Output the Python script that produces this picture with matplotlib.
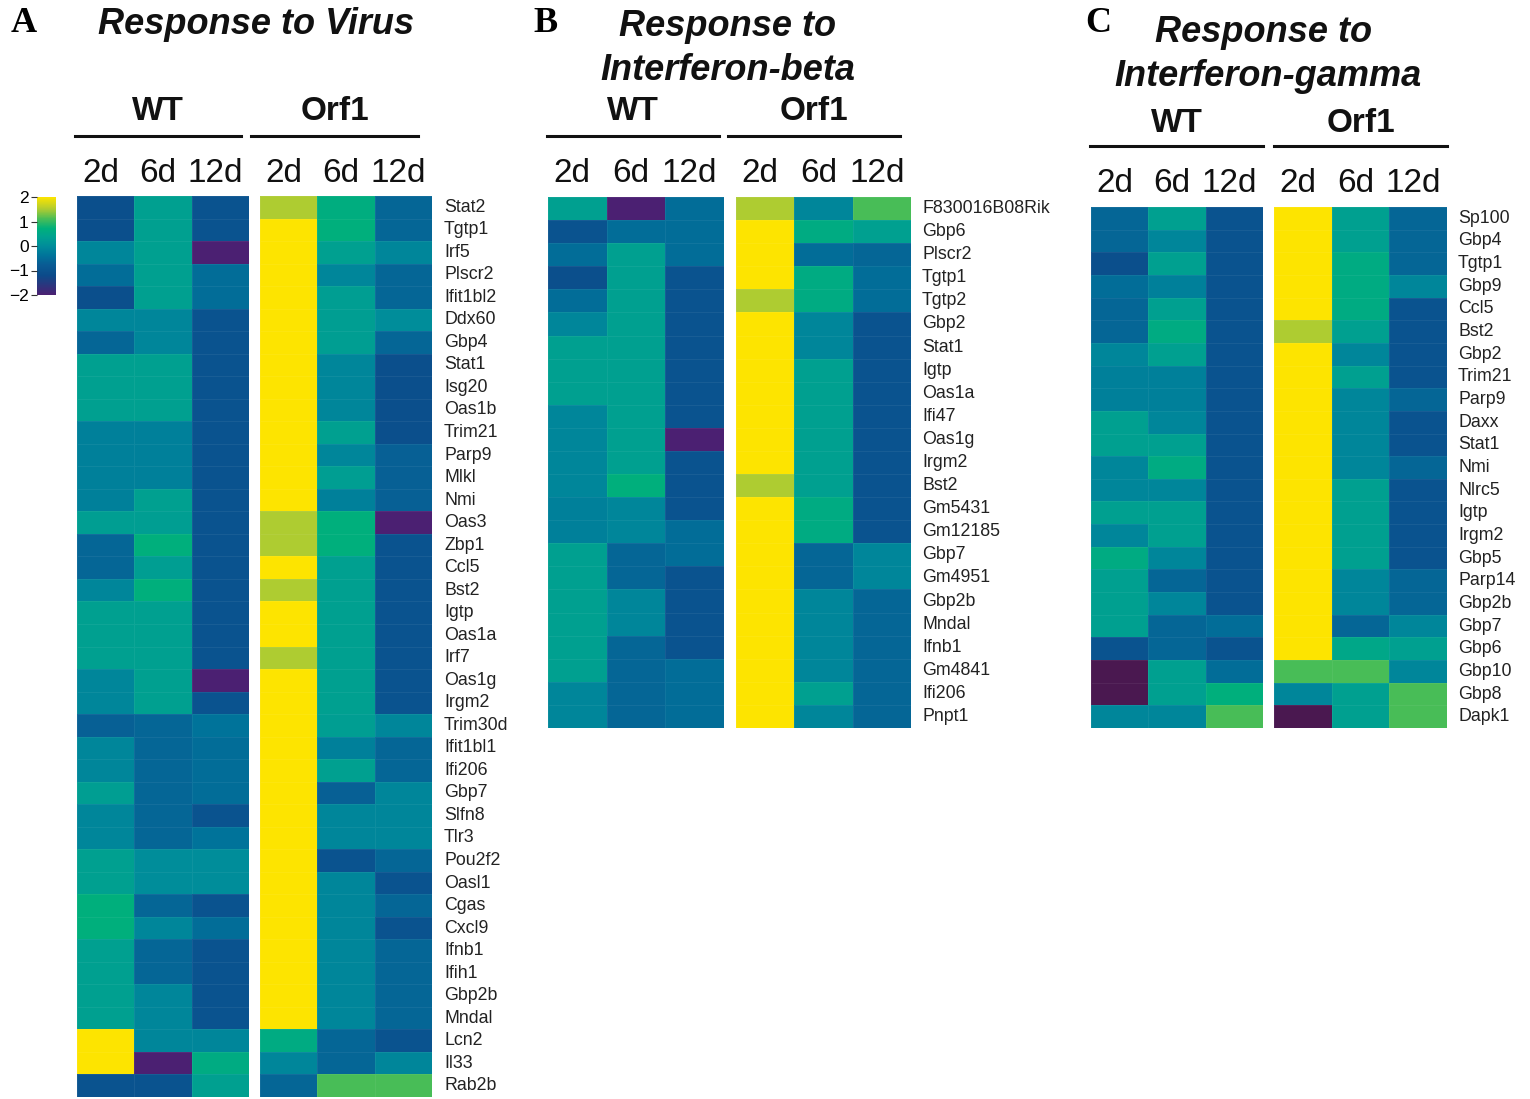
import numpy as np
import matplotlib
matplotlib.use("Agg")
import matplotlib.pyplot as plt
from matplotlib.colors import LinearSegmentedColormap, Normalize
from matplotlib.lines import Line2D

# ---- data (z-scores), columns: WT 2d 6d 12d, Orf1 2d 6d 12d
timepoints = ["2d", "6d", "12d"]
groups = ["WT", "Orf1"]

virus_genes = ["Stat2", "Tgtp1", "Irf5", "Plscr2", "Ifit1bl2", "Ddx60", "Gbp4", "Stat1",
               "Isg20", "Oas1b", "Trim21", "Parp9", "Mlkl", "Nmi", "Oas3", "Zbp1", "Ccl5",
               "Bst2", "Igtp", "Oas1a", "Irf7", "Oas1g", "Irgm2", "Trim30d", "Ifit1bl1",
               "Ifi206", "Gbp7", "Slfn8", "Tlr3", "Pou2f2", "Oasl1", "Cgas", "Cxcl9",
               "Ifnb1", "Ifih1", "Gbp2b", "Mndal", "Lcn2", "Il33", "Rab2b"]
virus_vals = [
    [-1.1, 0.35, -1.0, 1.5, 0.65, -0.6],
    [-1.1, 0.35, -1.0, 2.0, 0.7, -0.6],
    [-0.1, 0.35, -2.0, 2.0, 0.35, -0.1],
    [-0.5, 0.35, -0.5, 2.0, -0.1, -0.6],
    [-1.1, 0.35, -0.5, 2.0, 0.3, -0.6],
    [-0.1, -0.1, -1.0, 2.0, 0.3, 0.0],
    [-0.6, -0.1, -1.0, 2.0, 0.3, -0.6],
    [0.35, 0.35, -1.0, 2.0, -0.1, -1.1],
    [0.35, 0.35, -1.0, 2.0, -0.1, -1.1],
    [0.35, 0.35, -1.0, 2.0, -0.1, -1.1],
    [-0.2, -0.2, -1.0, 2.0, 0.35, -1.1],
    [-0.2, -0.2, -1.0, 2.0, -0.1, -0.7],
    [-0.2, -0.2, -1.0, 2.0, 0.3, -0.7],
    [-0.2, 0.35, -1.0, 2.0, -0.2, -0.7],
    [0.3, 0.3, -1.0, 1.5, 0.7, -2.0],
    [-0.6, 0.7, -1.0, 1.5, 0.7, -1.0],
    [-0.6, 0.3, -1.0, 2.0, 0.35, -1.0],
    [-0.1, 0.7, -1.0, 1.5, 0.35, -1.0],
    [0.35, 0.35, -1.0, 2.0, 0.35, -1.0],
    [0.35, 0.35, -1.0, 2.0, 0.35, -1.0],
    [0.35, 0.35, -1.0, 1.5, 0.35, -1.0],
    [-0.1, 0.35, -2.0, 2.0, 0.35, -1.0],
    [-0.1, 0.35, -1.0, 2.0, 0.35, -1.0],
    [-0.7, -0.6, -0.4, 2.0, 0.3, -0.1],
    [-0.1, -0.6, -0.5, 2.0, -0.2, -0.6],
    [-0.1, -0.6, -0.5, 2.0, 0.35, -0.6],
    [0.3, -0.6, -0.5, 2.0, -0.7, -0.1],
    [-0.1, -0.6, -1.0, 2.0, -0.1, -0.1],
    [-0.1, -0.6, -0.4, 2.0, -0.1, -0.1],
    [0.35, 0.0, 0.0, 2.0, -1.0, -0.6],
    [0.35, 0.0, 0.0, 2.0, -0.1, -1.0],
    [0.7, -0.6, -1.0, 2.0, -0.1, -0.6],
    [0.7, -0.1, -0.5, 2.0, -0.1, -1.0],
    [0.35, -0.6, -1.0, 2.0, -0.1, -0.6],
    [0.35, -0.6, -1.0, 2.0, -0.1, -0.6],
    [0.35, -0.1, -1.0, 2.0, -0.1, -0.6],
    [0.35, -0.1, -1.0, 2.0, -0.1, -0.6],
    [2.0, -0.1, -0.1, 0.6, -0.6, -1.0],
    [2.0, -2.0, 0.6, -0.1, -0.6, -0.1],
    [-1.0, -1.0, 0.35, -0.6, 1.1, 1.1],
]

ifnb_genes = ["F830016B08Rik", "Gbp6", "Plscr2", "Tgtp1", "Tgtp2", "Gbp2", "Stat1", "Igtp",
              "Oas1a", "Ifi47", "Oas1g", "Irgm2", "Bst2", "Gm5431", "Gm12185", "Gbp7",
              "Gm4951", "Gbp2b", "Mndal", "Ifnb1", "Gm4841", "Ifi206", "Pnpt1"]
ifnb_vals = [
    [0.35, -2.0, -0.5, 1.5, -0.1, 1.1],
    [-1.0, -0.5, -0.5, 2.0, 0.6, 0.35],
    [-0.5, 0.35, -0.5, 2.0, -0.5, -0.6],
    [-1.1, 0.35, -1.0, 2.0, 0.6, -0.5],
    [-0.5, 0.35, -1.0, 1.5, 0.6, -0.5],
    [-0.1, 0.35, -1.0, 2.0, -0.1, -1.0],
    [0.35, 0.35, -1.0, 2.0, -0.1, -1.0],
    [0.35, 0.35, -1.0, 2.0, 0.35, -1.0],
    [0.35, 0.35, -1.0, 2.0, 0.35, -1.0],
    [-0.1, 0.35, -1.0, 2.0, 0.35, -1.0],
    [-0.1, 0.35, -2.0, 2.0, 0.35, -1.0],
    [-0.1, 0.35, -1.0, 2.0, 0.35, -1.0],
    [-0.1, 0.7, -1.0, 1.5, 0.35, -1.0],
    [-0.2, -0.1, -1.0, 2.0, 0.6, -1.0],
    [-0.2, -0.1, -0.5, 2.0, 0.6, -1.0],
    [0.35, -0.6, -0.5, 2.0, -0.6, -0.1],
    [0.35, -0.6, -1.0, 2.0, -0.6, -0.1],
    [0.35, -0.1, -1.0, 2.0, -0.1, -0.6],
    [0.35, -0.1, -1.0, 2.0, -0.1, -0.6],
    [0.35, -0.6, -1.0, 2.0, -0.1, -0.6],
    [0.35, -0.6, -0.5, 2.0, -0.1, -0.6],
    [-0.1, -0.6, -0.5, 2.0, 0.35, -0.6],
    [-0.1, -0.6, -0.5, 2.0, -0.1, -0.6],
]

ifng_genes = ["Sp100", "Gbp4", "Tgtp1", "Gbp9", "Ccl5", "Bst2", "Gbp2", "Trim21", "Parp9",
              "Daxx", "Stat1", "Nmi", "Nlrc5", "Igtp", "Irgm2", "Gbp5", "Parp14", "Gbp2b",
              "Gbp7", "Gbp6", "Gbp10", "Gbp8", "Dapk1"]
ifng_vals = [
    [-0.6, 0.35, -1.0, 2.0, 0.35, -0.6],
    [-0.6, -0.1, -1.0, 2.0, 0.35, -0.6],
    [-1.1, 0.35, -1.0, 2.0, 0.6, -0.6],
    [-0.5, -0.2, -1.0, 2.0, 0.6, -0.1],
    [-0.6, 0.35, -1.0, 2.0, 0.6, -1.0],
    [-0.6, 0.6, -1.0, 1.5, 0.35, -1.0],
    [-0.1, 0.35, -1.0, 2.0, -0.1, -1.0],
    [-0.2, -0.2, -1.0, 2.0, 0.35, -1.0],
    [-0.2, -0.2, -1.0, 2.0, -0.1, -0.6],
    [0.35, -0.1, -1.0, 2.0, -0.1, -1.0],
    [0.35, 0.35, -1.0, 2.0, -0.1, -1.0],
    [-0.1, 0.6, -1.0, 2.0, -0.1, -0.6],
    [-0.1, -0.1, -1.0, 2.0, 0.35, -1.0],
    [0.35, 0.35, -1.0, 2.0, 0.35, -1.0],
    [-0.1, 0.35, -1.0, 2.0, 0.35, -1.0],
    [0.6, -0.1, -1.0, 2.0, 0.35, -1.0],
    [0.35, -0.6, -1.0, 2.0, -0.1, -0.6],
    [0.35, -0.1, -1.0, 2.0, -0.1, -0.6],
    [0.35, -0.6, -0.5, 2.0, -0.6, -0.1],
    [-1.0, -0.6, -1.0, 2.0, 0.5, 0.35],
    [-2.3, 0.35, -0.5, 1.1, 1.1, -0.1],
    [-2.3, 0.35, 0.7, -0.1, 0.35, 1.1],
    [-0.1, -0.1, 1.1, -2.3, 0.35, 1.1],
]

# ---- style
W, H = 1530, 1099
sans = "Liberation Sans"
serif = "Liberation Serif"
cmap = LinearSegmentedColormap.from_list("vir", [
    (0.00, "#4b2072"), (0.20, "#0b4b8a"), (0.30, "#0a5a93"), (0.40, "#00739a"),
    (0.50, "#008d9a"), (0.60, "#00a38f"), (0.68, "#00b07b"), (0.78, "#4bbd56"),
    (0.88, "#b0cc30"), (1.00, "#fde400")])
cmap.set_under("#4a1850")
norm = Normalize(vmin=-2, vmax=2)


def fx(x):
    return x / W


def fy(y):
    return 1 - y / H


def add_block(fig, x0, x1, y0, y1, vals):
    ax = fig.add_axes([fx(x0), fy(y1), (x1 - x0) / W, (y1 - y0) / H])
    ax.pcolormesh(vals, cmap=cmap, norm=norm, edgecolors=(1, 1, 1, 0.06), linewidth=0.6)
    ax.set_xlim(0, vals.shape[1])
    ax.set_ylim(vals.shape[0], 0)
    ax.set_axis_off()
    return ax


def draw_panel(fig, genes, vals, wt_x, orf_x, y0, y1, label_x, line_y, grp_y, tp_y,
               wt_line, orf_line):
    vals = np.array(vals)
    add_block(fig, wt_x[0], wt_x[1], y0, y1, vals[:, :3])
    add_block(fig, orf_x[0], orf_x[1], y0, y1, vals[:, 3:])
    rh = (y1 - y0) / len(genes)
    for i, g in enumerate(genes):
        fig.text(fx(label_x), fy(y0 + (i + 0.5) * rh), g, fontsize=12.8, family=sans,
                 va="center", ha="left", color="#222222")
    for (xa, xb), (la, lb), grp in zip([wt_x, orf_x], [wt_line, orf_line], groups):
        cw = (xb - xa) / 3
        for j, tp in enumerate(timepoints):
            fig.text(fx(xa + (j + 0.5) * cw - 5), fy(tp_y), tp, fontsize=24, family=sans,
                     ha="center", va="center", color="#111111")
        fig.add_artist(Line2D([fx(la), fx(lb)], [fy(line_y), fy(line_y)], color="#111111",
                              lw=2.2))
        fig.text(fx((la + lb) / 2), fy(grp_y), grp, fontsize=24, family=sans,
                 fontweight="bold", ha="center", va="center", color="#111111")


def title(x, y, s):
    fig.text(fx(x), fy(y), s, fontsize=26, family=sans, fontweight="bold",
             style="italic", ha="center", va="center", color="#111111")


def letter(x, y, s):
    fig.text(fx(x), fy(y), s, fontsize=26, family=serif, fontweight="bold",
             ha="center", va="center")


fig = plt.figure(figsize=(W / 100, H / 100), dpi=100)

# A
draw_panel(fig, virus_genes, virus_vals, (77, 249), (260, 432), 196, 1097, 444,
           136, 112, 173, (75, 241), (251, 418))
letter(24, 24, "A")
title(256, 25, "Response to Virus")

# B
draw_panel(fig, ifnb_genes, ifnb_vals, (548, 724), (736, 911), 197, 728, 922,
           136, 111, 174, (547, 719), (728, 900))
letter(545, 24, "B")
title(728, 26, "Response to")
title(728, 70, "Interferon-beta")

# C
draw_panel(fig, ifng_genes, ifng_vals, (1091, 1263), (1274, 1447), 207, 728, 1458,
           146, 123, 184, (1090, 1263), (1274, 1447))
letter(1098, 24, "C")
title(1264, 33, "Response to")
title(1268, 76, "Interferon-gamma")

# colour key
cax = fig.add_axes([fx(37), fy(295), 19 / W, 98 / H])
sm = plt.cm.ScalarMappable(norm=norm, cmap=cmap)
cb = fig.colorbar(sm, cax=cax, ticks=[2, 1, 0, -1, -2])
cb.outline.set_visible(False)
cax.yaxis.set_ticks_position("left")
cax.tick_params(labelsize=12.5, length=4, width=0.8, pad=2, color="#333333")
for t in cax.get_yticklabels():
    t.set_family(sans)

fig.savefig("out.png", dpi=100, facecolor="white")
